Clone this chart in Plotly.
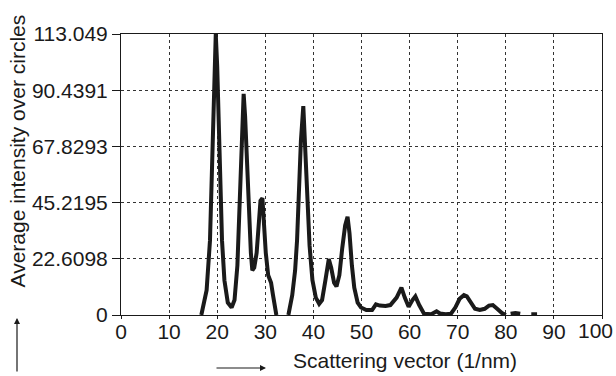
import plotly.graph_objects as go

# Data
q = [16.7, 17.8, 18.5, 19.0, 19.4, 19.7, 20.0, 20.3, 20.6, 21.0, 21.5, 22.2, 23.0, 23.6, 24.2, 24.7,
     25.2, 25.5, 25.8, 26.2, 26.6, 27.0, 27.3, 27.7, 28.2, 28.7, 29.0, 29.4, 29.7, 30.1, 30.6, 31.2,
     31.6, 32.3, None,
     34.8, 35.6, 36.2, 36.6, 37.0, 37.4, 37.9, 38.3, 38.7, 39.2, 39.8, 40.5, 41.2, 41.8, 42.5, 43.2,
     43.7, 44.3, 44.8, 45.4, 46.0, 46.6, 47.1, 47.5, 48.0, 48.5, 49.2, 49.9, 51.0, 52.2, 53.0, 53.8,
     55.0, 56.0, 57.3, 58.3, 59.0, 59.8, 60.6, 61.2, 62.0, 63.0, 64.5, 65.6, 66.3, 67.5, 68.6, 69.5,
     70.4, 71.3, 71.9, 72.8, 73.6, 74.6, 75.6, 76.5, 77.3, 78.2, 79.2, 80.0, None,
     81.0, 82.0, 83.0, None, 85.3, 86.5]
intensity = [0, 10, 30, 60, 95, 113, 100, 80, 55, 30, 14, 5, 3, 6, 20, 43,
             75, 89, 80, 60, 40, 25, 18, 19, 25, 40, 46, 47, 37, 25, 16, 13,
             8, 0, None,
             0, 8, 18, 30, 50, 70, 84, 68, 45, 28, 14, 7, 4.5, 6, 14, 22.5,
             19, 13, 11.5, 16, 27, 36, 39.5, 33, 20, 11, 5, 3, 2, 2, 4.3, 3.8,
             3.6, 4, 7, 11, 7, 3.3, 6, 7.5, 4, 0.5, 0.3, 1.5, 0.6, 0.3, 0.5, 3,
             6.5, 8, 7.5, 5, 2.5, 2, 2.5, 3.8, 4, 2.5, 0.8, 0, None,
             0.5, 0.8, 0.5, None, 0.3, 0.3]

x_ticks = [0, 10, 20, 30, 40, 50, 60, 70, 80, 90, 100]
x_tick_labels = ["0", "10", "20", "30", "40", "50", "60", "70", "80", "90", ""]
y_ticks = [0, 22.6098, 45.2195, 67.8293, 90.4391, 113.049]
y_tick_labels = ["0", "22.6098", "45.2195", "67.8293", "90.4391", "113.049"]

FONT = "Liberation Sans, Arial, sans-serif"
FS = 21

fig = go.Figure()
fig.add_trace(go.Scatter(x=q, y=intensity, mode="lines",
                         line=dict(color="#1a1a1a", width=4),
                         connectgaps=False, showlegend=False))

fig.update_layout(
    width=616, height=376,
    margin=dict(l=121, r=14, t=34, b=61),
    paper_bgcolor="white", plot_bgcolor="white",
    font=dict(family=FONT, size=FS, color="#1a1a1a"),
    xaxis=dict(range=[0, 100], tickvals=x_ticks, ticktext=x_tick_labels, showgrid=True,
               gridcolor="#333333", griddash="dot", gridwidth=1, showline=True,
               linecolor="#1a1a1a", linewidth=1, mirror=True, ticks="outside", ticklen=3,
               tickcolor="#1a1a1a", zeroline=False, tickfont=dict(size=FS),
               ticklabelstandoff=-5),
    yaxis=dict(range=[0, 113.049], tickvals=y_ticks, ticktext=y_tick_labels, showgrid=True,
               gridcolor="#333333", griddash="dot", gridwidth=1, showline=True,
               linecolor="#1a1a1a", linewidth=1, mirror=True, ticks="outside", ticklen=8,
               tickcolor="#1a1a1a", zeroline=False, tickfont=dict(size=FS)),
)

# last x tick label sits slightly left of its tick in the reference (kept inside the page)
fig.add_annotation(text=str(x_ticks[-1]), xref="paper", yref="paper",
                   x=(595 - 121) / 481, y=-(330 - 315) / 281, xanchor="center", yanchor="middle",
                   showarrow=False, font=dict(size=FS))
fig.add_annotation(text="Average intensity over circles", xref="paper", yref="paper",
                   x=-118/481, y=1 - (151 - 34) / 281, xanchor="left", yanchor="middle",
                   textangle=-90, showarrow=False, font=dict(size=FS))
fig.add_annotation(text="Scattering vector (1/nm)", xref="paper", yref="paper",
                   x=(405 - 121) / 481, y=-(360 - 315) / 281, xanchor="center", yanchor="middle",
                   showarrow=False, font=dict(size=FS))
# arrows
fig.add_annotation(text="", xref="paper", yref="paper", x=(17 - 121) / 481, y=-(318 - 315) / 281,
                   ax=0, ay=55, showarrow=True, arrowhead=2, arrowsize=1, arrowwidth=1.2,
                   arrowcolor="#1a1a1a")
fig.add_annotation(text="", xref="paper", yref="paper", x=(266 - 121) / 481, y=-(368 - 315) / 281,
                   ax=-51, ay=0, showarrow=True, arrowhead=2, arrowsize=1, arrowwidth=1.2,
                   arrowcolor="#1a1a1a")

fig.write_html("out.html", post_script="document.body.style.margin='0';",
               config={"displayModeBar": False})
